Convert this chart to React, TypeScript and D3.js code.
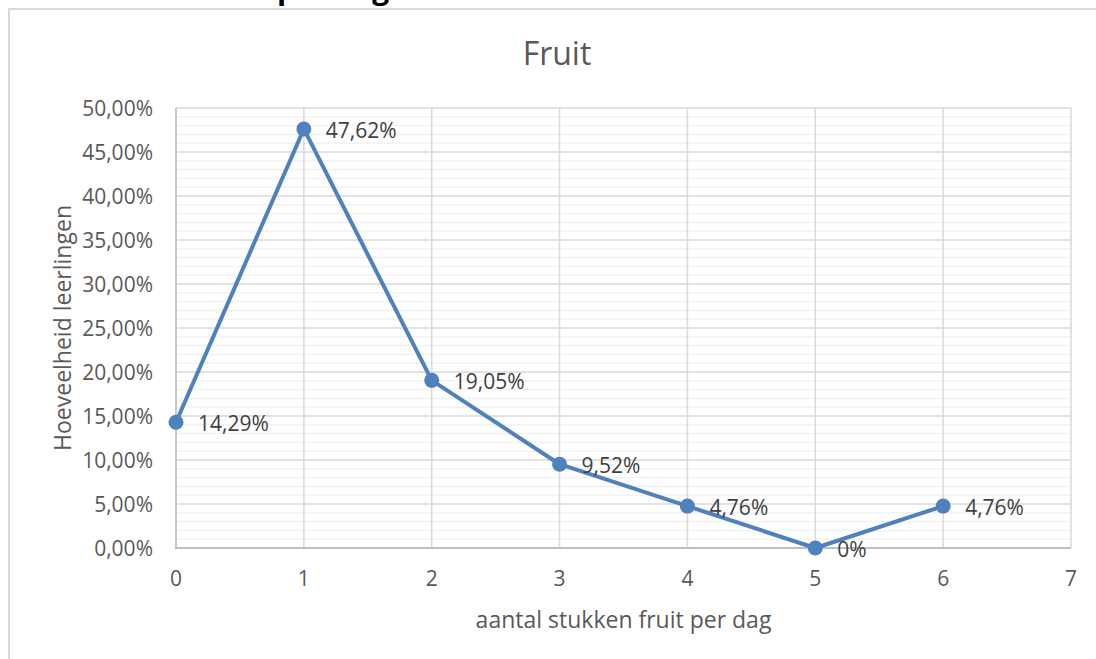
import * as d3 from "d3";

// data
const pieces = [0, 1, 2, 3, 4, 5, 6];
const shares = [14.29, 47.62, 19.05, 9.52, 4.76, 0, 4.76];
const shareLabels = ["14,29%", "47,62%", "19,05%", "9,52%", "4,76%", "0%", "4,76%"];
const xTicks = [0, 1, 2, 3, 4, 5, 6, 7];
const yTicks = [0, 5, 10, 15, 20, 25, 30, 35, 40, 45, 50];
const yMinor = d3.range(0, 51, 1);

const W = 1096;
const H = 659;
const m = { left: 176, right: 1071, top: 108, bottom: 548 };
const font = "'Open Sans', 'Noto Sans', sans-serif";
const grey = "#595959";
const blue = "#4f81bd";

export default function App() {
  const x = d3.scaleLinear().domain([0, 7]).range([m.left, m.right]);
  const y = d3.scaleLinear().domain([0, 50]).range([m.bottom, m.top]);

  const pts = pieces.map((p, i) => ({ p, v: shares[i], label: shareLabels[i] }));
  const line = d3
    .line<{ p: number; v: number }>()
    .x((d) => x(d.p))
    .y((d) => y(d.v));

  const fmt = (v: number) => v.toFixed(2).replace(".", ",") + "%";

  return (
    <div style={{ position: "fixed", left: 0, top: 0 }}>
      <svg width={W} height={H} style={{ display: "block", background: "#fff" }}>
        {/* heading of the page above, only its descenders show */}
        <text x={277} y={-1} fontFamily={font} fontWeight={700} fontSize={30} fill="#000">
          per dag
        </text>

        {/* chart frame */}
        <rect x={9} y={9} width={1100} height={700} fill="#fff" stroke="#d9d9d9" strokeWidth={2} />

        <text x={557} y={65} textAnchor="middle" fontFamily={font} fontSize={32} fill={grey}>
          Fruit
        </text>

        {/* minor grid */}
        {yMinor
          .filter((v) => v % 5 !== 0)
          .map((v) => (
            <line key={"mn" + v} x1={m.left} x2={m.right} y1={y(v)} y2={y(v)} stroke="#f2f2f2" strokeWidth={1.5} />
          ))}
        {/* major grid */}
        {yTicks.map((v) => (
          <line key={"mj" + v} x1={m.left} x2={m.right} y1={y(v)} y2={y(v)} stroke="#d9d9d9" strokeWidth={1.5} />
        ))}
        {xTicks.map((t) => (
          <line key={"vx" + t} x1={x(t)} x2={x(t)} y1={m.top} y2={m.bottom} stroke="#d9d9d9" strokeWidth={1.5} />
        ))}
        {/* axes */}
        <line x1={m.left} x2={m.left} y1={m.top} y2={m.bottom + 1} stroke="#c8c8c8" strokeWidth={2} />
        <line x1={m.left - 1} x2={m.right} y1={m.bottom} y2={m.bottom} stroke="#bfbfbf" strokeWidth={2} />

        {/* tick labels */}
        {yTicks.map((v) => (
          <text key={"yl" + v} x={153} y={y(v)} dy="0.36em" textAnchor="end" fontFamily={font} fontSize={21} fill={grey}>
            {fmt(v)}
          </text>
        ))}
        {xTicks.map((t) => (
          <text key={"xl" + t} x={x(t)} y={586} textAnchor="middle" fontFamily={font} fontSize={21} fill={grey}>
            {t}
          </text>
        ))}

        {/* axis titles */}
        <text x={(m.left + m.right) / 2} y={628} textAnchor="middle" fontFamily={font} fontSize={23} fill={grey}>
          aantal stukken fruit per dag
        </text>
        <text
          transform={`translate(71,328) rotate(-90)`}
          textAnchor="middle"
          fontFamily={font}
          fontSize={23}
          fill={grey}
        >
          Hoeveelheid leerlingen
        </text>

        {/* series */}
        <path d={line(pts) || ""} fill="none" stroke={blue} strokeWidth={4} strokeLinejoin="round" />
        {pts.map((d) => (
          <circle key={"c" + d.p} cx={x(d.p)} cy={y(d.v)} r={7.5} fill={blue} />
        ))}
        {pts.map((d) => (
          <text
            key={"dl" + d.p}
            x={x(d.p) + 22}
            y={y(d.v) + 1}
            dy="0.36em"
            fontFamily={font}
            fontSize={21}
            fill="#404040"
          >
            {d.label}
          </text>
        ))}
      </svg>
    </div>
  );
}
